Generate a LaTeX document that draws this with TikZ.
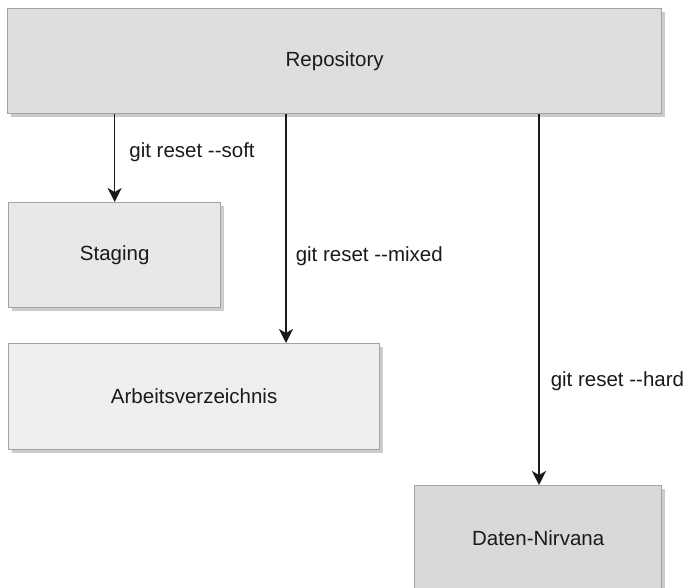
\documentclass[tikz,border=0pt]{standalone}
\usepackage{fontspec}
\setmainfont{Liberation Sans}
\usetikzlibrary{arrows.meta,shadows}
\definecolor{boxline}{HTML}{A3A3A3}
\definecolor{repofill}{HTML}{DEDEDE}
\definecolor{stagefill}{HTML}{E8E8E8}
\definecolor{workfill}{HTML}{EFEFEF}
\definecolor{nirvanafill}{HTML}{D9D9D9}
\definecolor{ink}{HTML}{1A1A1A}
\begin{document}
\begin{tikzpicture}[>={Stealth[length=14pt,width=14pt,inset=4pt]},x=1pt,y=-1pt,
		box/.style={draw=boxline,line width=1.3pt,rectangle,anchor=north west,inner sep=0pt,text=ink,
			font=\fontsize{20.5}{24}\selectfont,
			drop shadow={shadow xshift=3pt,shadow yshift=-3pt,opacity=.2,fill=black}},
		cmd/.style={anchor=west,inner sep=0pt,text=ink,font=\fontsize{20.5}{24}\selectfont},
		reset/.style={->,line width=1.5pt,ink}]
		\useasboundingbox (0,0) rectangle (687,588);
		\node[box,fill=repofill,minimum width=654pt,minimum height=105pt] (repo) at (7,8) {Repository};
		\node[box,fill=stagefill,minimum width=212pt,minimum height=105pt] (stag) at (8,202) {Staging};
		\node[box,fill=workfill,minimum width=371pt,minimum height=106pt] (work) at (8,343) {Arbeitsverzeichnis};
		\node[box,fill=nirvanafill,minimum width=247pt,minimum height=105pt] (nirv) at (414,485) {Daten-Nirvana};
		\coordinate (mx) at (286,0);
		\coordinate (hx) at (539,0);
		\draw[reset] (repo.south -| stag.north) -- (stag.north) node[cmd,pos=0.43,xshift=14pt] {git reset -{}-soft};
		\draw[reset] (repo.south -| mx) -- (work.north -| mx) node[cmd,pos=0.62,xshift=9pt] {git reset -{}-mixed};
		\draw[reset] (repo.south -| hx) -- (nirv.north -| hx) node[cmd,pos=0.72,xshift=11pt] {git reset -{}-hard};
	\end{tikzpicture}
\end{document}
